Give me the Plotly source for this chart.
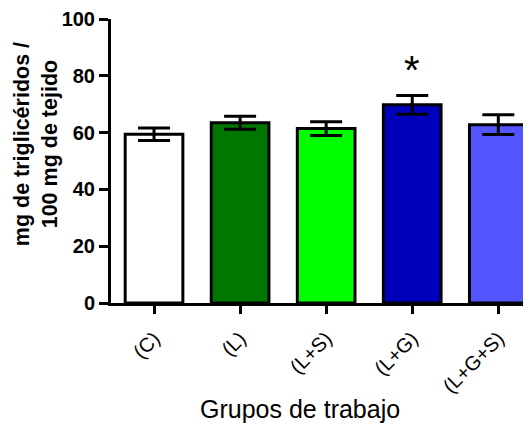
import plotly.graph_objects as go

categories = ["(C)", "(L)", "(L+S)", "(L+G)", "(L+G+S)"]
means = [59.4, 63.5, 61.4, 69.8, 62.8]
errors = [2.2, 2.3, 2.4, 3.3, 3.5]
colors = ["#ffffff", "#007700", "#00ff00", "#0000bb", "#5555ff"]
y_ticks = [0, 20, 40, 60, 80, 100]
star_group = "(L+G)"
star_y = 82

FONT = "Arial, Liberation Sans, sans-serif"

fig = go.Figure()
fig.add_trace(go.Bar(
    x=categories, y=means, width=0.67,
    marker=dict(color=colors, line=dict(color="black", width=3)),
    error_y=dict(type="data", array=errors, visible=True,
                 color="black", thickness=3, width=16),
))

fig.add_annotation(x=star_group, y=star_y, text="*", showarrow=False,
                   font=dict(family=FONT, size=40, color="black"),
                   xref="x", yref="y", xanchor="center", yanchor="middle")
fig.add_annotation(x=-0.178, y=0.56, xref="paper", yref="paper",
                   xanchor="center", yanchor="middle",
                   text="<b>mg de triglicéridos /<br>100 mg de tejido</b>",
                   textangle=-90, showarrow=False,
                   font=dict(family=FONT, size=21.5, color="black"))
fig.add_annotation(x=0.45, y=-0.373, xref="paper", yref="paper",
                   xanchor="center", yanchor="middle",
                   text="Grupos de trabajo", showarrow=False,
                   font=dict(family=FONT, size=25, color="black"))

# page body has an 8px default margin; compensate so plot area sits at
# x 111..531 and y 16..303 in the window
fig.update_layout(
    width=523, height=418,
    margin=dict(l=103, r=0, t=8, b=123),
    plot_bgcolor="white", paper_bgcolor="white",
    showlegend=False,
    font=dict(family=FONT, color="black"),
)
fig.update_xaxes(
    range=[-0.5, 4.38], showline=True, linecolor="black", linewidth=3,
    ticks="outside", ticklen=8, tickwidth=3, tickcolor="black",
    tickangle=-45, ticklabelstandoff=5,
    tickfont=dict(family=FONT, size=20, color="black"),
    showgrid=False, zeroline=False,
)
fig.update_yaxes(
    range=[0, 100], tickvals=y_ticks, showline=True, linecolor="black",
    linewidth=3, ticks="outside", ticklen=9, tickwidth=3, tickcolor="black",
    tickfont=dict(family=FONT, size=20, color="black", weight="bold"),
    ticklabeloverflow="allow",
    showgrid=False, zeroline=False,
)

fig.write_html("out.html")
